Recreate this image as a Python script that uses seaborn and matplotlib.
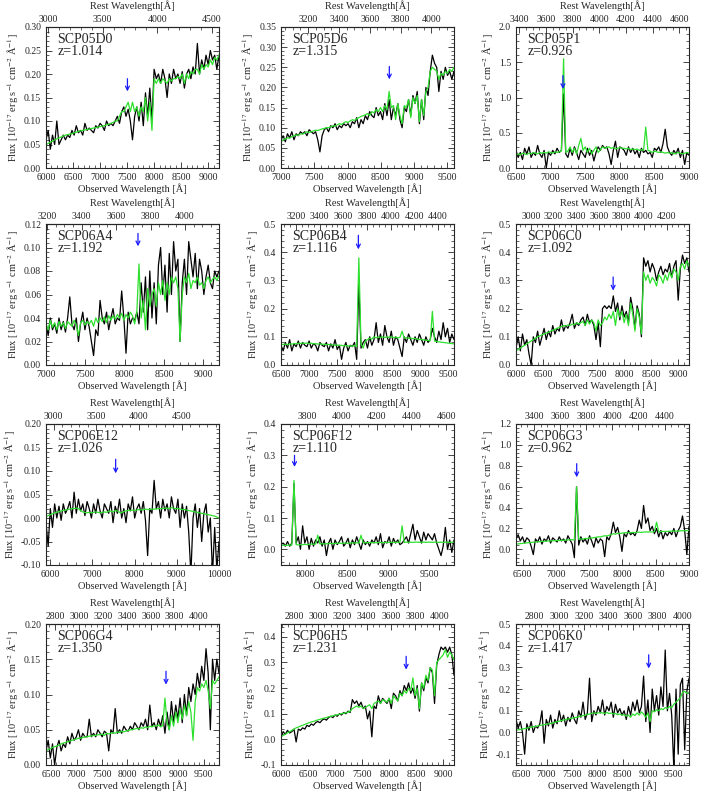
import numpy as np
import matplotlib
matplotlib.use("Agg")
import matplotlib.pyplot as plt
from matplotlib.ticker import AutoMinorLocator, FormatStrFormatter
import seaborn as sns

# ---- data: one panel per SN host, flux in 1e-17 erg/s/cm2/A ----
names = ["SCP05D0", "SCP05D6", "SCP05P1",
         "SCP06A4", "SCP06B4", "SCP06C0",
         "SCP06E12", "SCP06F12", "SCP06G3",
         "SCP06G4", "SCP06H5", "SCP06K0"]
redshifts = [1.014, 1.315, 0.926,
             1.192, 1.116, 1.092,
             1.026, 1.110, 0.962,
             1.350, 1.231, 1.417]
wave_ranges = [(6000, 9200), (7000, 9600), (6500, 9000),
               (7000, 9200), (6500, 9600), (6000, 9200),
               (5900, 10000), (7700, 9800), (6400, 9000),
               (6400, 9800), (6000, 9200), (6400, 9800)]
ylims = [(0, 0.30), (0, 0.35), (0, 2.0),
         (0, 0.12), (0, 0.5), (0, 0.5),
         (-0.10, 0.20), (-0.05, 0.4), (-0.15, 1.2),
         (0, 0.20), (-0.10, 0.45), (-0.15, 0.5)]
yticks = [np.arange(0, 0.301, 0.05), np.arange(0, 0.351, 0.05), np.arange(0, 2.01, 0.5),
          np.arange(0, 0.121, 0.02), np.arange(0, 0.51, 0.1), np.arange(0, 0.51, 0.1),
          np.arange(-0.10, 0.201, 0.05), np.arange(0, 0.41, 0.1), np.arange(0, 1.21, 0.2),
          np.arange(0, 0.201, 0.05), np.arange(-0.1, 0.41, 0.1), np.arange(-0.1, 0.51, 0.1)]
yfmt = ["%.2f", "%.2f", "%.1f", "%.2f", "%.1f", "%.1f",
        "%.2f", "%.1f", "%.1f", "%.2f", "%.1f", "%.1f"]
obs_ticks = [range(6000, 9001, 500), range(7000, 9501, 500), range(6500, 9001, 500),
             range(7000, 9001, 500), range(6500, 9501, 500), range(6000, 9001, 500),
             range(6000, 10001, 1000), range(8000, 9501, 500), range(6500, 9001, 500),
             range(6500, 9501, 500), range(6000, 9001, 500), range(6500, 9501, 500)]
rest_ticks = [range(3000, 4501, 500), range(3200, 4001, 200), range(3400, 4601, 200),
              range(3200, 4001, 200), range(3200, 4401, 200), range(3000, 4201, 200),
              range(3000, 4501, 500), range(3800, 4601, 200), range(3400, 4401, 200),
              range(2800, 4001, 200), range(2800, 4001, 200), range(2800, 4001, 200)]
# [OII] arrow: (top, tip) in flux units
arrow_y = [(0.19, 0.163), (0.252, 0.22), (1.31, 1.12),
           (0.112, 0.101), (0.46, 0.41), (0.312, 0.264),
           (0.125, 0.095), (0.30, 0.263), (0.82, 0.69),
           (0.133, 0.114), (0.324, 0.272), (0.358, 0.295)]
oii_rest = 3727.0

d0_obs = [0.06, 0.08, 0.04, 0.07, 0.05, 0.10, 0.05, 0.06, 0.07, 0.06,
          0.07, 0.065, 0.08, 0.07, 0.09, 0.075, 0.08, 0.07, 0.095, 0.08,
          0.085, 0.08, 0.075, 0.09, 0.085, 0.095, 0.09, 0.08, 0.10, 0.09,
          0.095, 0.09, 0.10, 0.11, 0.095, 0.12, 0.13, 0.11, 0.125, 0.10,
          0.06, 0.11, 0.13, 0.10, 0.14, 0.09, 0.16, 0.11, 0.17, 0.10,
          0.21, 0.19, 0.20, 0.18, 0.21, 0.19, 0.15, 0.20, 0.18, 0.21,
          0.19, 0.20, 0.18, 0.205, 0.17, 0.20, 0.21, 0.19, 0.215, 0.20,
          0.265, 0.20, 0.23, 0.21, 0.24, 0.22, 0.25, 0.23, 0.24, 0.21, 0.24]
d0_fit = [0.05, 0.052, 0.055, 0.057, 0.06, 0.062, 0.064, 0.066, 0.068, 0.07,
          0.071, 0.072, 0.073, 0.075, 0.076, 0.078, 0.079, 0.08, 0.081, 0.082,
          0.083, 0.084, 0.085, 0.086, 0.087, 0.088, 0.089, 0.09, 0.092, 0.093,
          0.095, 0.097, 0.10, 0.10, 0.11, 0.12, 0.12, 0.13, 0.14, 0.12,
          0.14, 0.12, 0.13, 0.11, 0.13, 0.12, 0.15, 0.10, 0.14, 0.08,
          0.19, 0.18, 0.19, 0.18, 0.19, 0.185, 0.18, 0.19, 0.185, 0.19,
          0.19, 0.195, 0.19, 0.20, 0.18, 0.20, 0.19, 0.205, 0.20, 0.21,
          0.21, 0.20, 0.22, 0.21, 0.22, 0.215, 0.23, 0.22, 0.235, 0.23, 0.24]

d6_obs = [0.07, 0.08, 0.065, 0.085, 0.075, 0.09, 0.07, 0.085, 0.08, 0.09,
          0.085, 0.09, 0.08, 0.095, 0.09, 0.085, 0.09, 0.07, 0.04, 0.08,
          0.095, 0.10, 0.09, 0.105, 0.10, 0.11, 0.095, 0.105, 0.10, 0.11,
          0.105, 0.11, 0.10, 0.115, 0.11, 0.125, 0.10, 0.12, 0.11, 0.13,
          0.12, 0.14, 0.13, 0.125, 0.15, 0.13, 0.14, 0.12, 0.16, 0.13,
          0.17, 0.12, 0.15, 0.13, 0.16, 0.12, 0.10, 0.15, 0.14, 0.17,
          0.13, 0.18, 0.16, 0.19, 0.11, 0.17, 0.12, 0.20, 0.18, 0.24,
          0.28, 0.26, 0.25, 0.19, 0.24, 0.22, 0.25, 0.23, 0.24, 0.22, 0.24]
d6_fit = [0.065, 0.07, 0.072, 0.075, 0.074, 0.078, 0.08, 0.082, 0.081, 0.085,
          0.084, 0.087, 0.09, 0.088, 0.09, 0.092, 0.094, 0.093, 0.095, 0.097,
          0.098, 0.10, 0.10, 0.102, 0.105, 0.104, 0.107, 0.11, 0.108, 0.112,
          0.115, 0.113, 0.117, 0.12, 0.118, 0.122, 0.125, 0.128, 0.13, 0.132,
          0.135, 0.13, 0.14, 0.137, 0.145, 0.14, 0.15, 0.14, 0.155, 0.145,
          0.19, 0.15, 0.155, 0.12, 0.16, 0.13, 0.11, 0.155, 0.15, 0.17,
          0.125, 0.175, 0.16, 0.18, 0.115, 0.17, 0.13, 0.19, 0.20, 0.24,
          0.25, 0.245, 0.24, 0.22, 0.235, 0.23, 0.24, 0.235, 0.245, 0.24, 0.25]

p1_obs = [0.25, 0.15, 0.22, 0.12, 0.28, 0.20, 0.30, 0.15, 0.22, 0.18,
          0.32, 0.20, 0.15, 0.25, 0.0, 0.22, 0.18, 0.25, 0.20, 0.28,
          0.22, 0.25, 1.05, 0.20, 0.15, 0.28, 0.18, 0.30, 0.22, 0.12,
          0.25, 0.20, 0.15, 0.28, 0.18, 0.25, 0.10, 0.22, 0.30, 0.25,
          0.32, 0.28, 0.30, 0.20, 0.05, 0.25, 0.38, 0.15, 0.30, 0.28,
          0.25, 0.18, 0.30, 0.22, 0.28, 0.20, 0.25, 0.15, 0.28, 0.22,
          0.25, 0.20, 0.22, 0.15, 0.28, 0.25, 0.30, 0.22, 0.35, 0.55,
          0.30, 0.22, 0.18, 0.25, 0.20, 0.28, 0.15, 0.25, 0.05, 0.22, 0.18]
p1_fit = [0.18, 0.20, 0.19, 0.21, 0.20, 0.19, 0.21, 0.20, 0.22, 0.21,
          0.20, 0.22, 0.21, 0.22, 0.21, 0.23, 0.22, 0.21, 0.23, 0.22,
          0.23, 0.24, 1.55, 0.22, 0.24, 0.30, 0.22, 0.28, 0.20, 0.32,
          0.42, 0.25, 0.30, 0.22, 0.28, 0.20, 0.25, 0.30, 0.22, 0.26,
          0.30, 0.28, 0.29, 0.30, 0.28, 0.29, 0.27, 0.28, 0.29, 0.28,
          0.28, 0.27, 0.28, 0.26, 0.27, 0.26, 0.27, 0.25, 0.26, 0.25,
          0.58, 0.25, 0.24, 0.22, 0.24, 0.23, 0.22, 0.23, 0.22, 0.21,
          0.22, 0.21, 0.22, 0.20, 0.21, 0.22, 0.21, 0.20, 0.21, 0.22, 0.21]

a4_obs = [0.035, 0.025, 0.04, 0.03, 0.035, 0.027, 0.04, 0.03, 0.037, 0.028,
          0.04, 0.058, 0.035, 0.03, 0.04, 0.02, 0.035, 0.045, 0.03, 0.04,
          0.032, 0.02, 0.008, 0.03, 0.025, 0.055, 0.04, 0.035, 0.045, 0.03,
          0.04, 0.048, 0.035, 0.04, 0.038, 0.063, 0.04, 0.01, 0.045, 0.035,
          0.04, 0.038, 0.045, 0.035, 0.07, 0.045, 0.075, 0.03, 0.08, 0.04,
          0.07, 0.035, 0.085, 0.10, 0.06, 0.085, 0.045, 0.095, 0.06, 0.105,
          0.08, 0.09, 0.02, 0.07, 0.09, 0.06, 0.105, 0.09, 0.075, 0.095,
          0.065, 0.09, 0.08, 0.06, 0.075, 0.085, 0.07, 0.065, 0.08, 0.075, 0.08]
a4_fit = [0.035, 0.03, 0.038, 0.032, 0.036, 0.03, 0.037, 0.033, 0.036, 0.031,
          0.037, 0.035, 0.033, 0.038, 0.034, 0.025, 0.036, 0.038, 0.034, 0.037,
          0.035, 0.038, 0.033, 0.04, 0.036, 0.04, 0.037, 0.041, 0.036, 0.042,
          0.038, 0.042, 0.039, 0.043, 0.04, 0.044, 0.038, 0.043, 0.04, 0.045,
          0.042, 0.035, 0.045, 0.086, 0.04, 0.055, 0.03, 0.065, 0.05, 0.06,
          0.065, 0.05, 0.07, 0.06, 0.072, 0.055, 0.07, 0.06, 0.075, 0.07,
          0.075, 0.065, 0.02, 0.06, 0.075, 0.07, 0.078, 0.065, 0.072, 0.07,
          0.075, 0.068, 0.07, 0.065, 0.072, 0.075, 0.07, 0.073, 0.075, 0.072, 0.076]

b4_obs = [0.07, 0.05, 0.08, 0.06, 0.09, 0.05, 0.075, 0.065, 0.085, 0.06,
          0.08, 0.07, 0.065, 0.085, 0.06, 0.075, 0.07, 0.05, 0.08, 0.07,
          0.065, 0.08, 0.05, 0.075, 0.06, 0.09, 0.055, 0.07, 0.02, 0.06,
          0.08, 0.05, 0.07, 0.065, 0.08, 0.02, 0.29, 0.06, 0.08, 0.09,
          0.06, 0.10, 0.07, 0.09, 0.15, 0.08, 0.11, 0.07, 0.14, 0.10,
          0.08, 0.12, 0.07, 0.10, 0.09, 0.06, 0.03, 0.10, 0.08, 0.11,
          0.09, 0.07, 0.10, 0.08, 0.11, 0.09, 0.07, 0.10, 0.08, 0.09,
          0.13, 0.10, 0.08, 0.12, 0.09, 0.15, 0.10, 0.13, 0.08, 0.11, 0.09]
b4_fit = [0.072, 0.073, 0.074, 0.072, 0.075, 0.074, 0.076, 0.075, 0.077, 0.076,
          0.078, 0.077, 0.078, 0.076, 0.077, 0.075, 0.076, 0.074, 0.075, 0.073,
          0.074, 0.072, 0.073, 0.071, 0.072, 0.07, 0.071, 0.069, 0.07, 0.068,
          0.069, 0.067, 0.068, 0.066, 0.07, 0.065, 0.38, 0.075, 0.06, 0.085,
          0.09, 0.095, 0.092, 0.10, 0.096, 0.10, 0.098, 0.10, 0.097, 0.10,
          0.098, 0.10, 0.097, 0.099, 0.096, 0.098, 0.12, 0.095, 0.097, 0.094,
          0.096, 0.093, 0.094, 0.092, 0.09, 0.091, 0.089, 0.088, 0.087, 0.086,
          0.19, 0.085, 0.084, 0.082, 0.081, 0.08, 0.079, 0.078, 0.077, 0.076, 0.075]

c0_obs = [0.06, 0.10, 0.05, 0.11, 0.07, 0.09, 0.04, 0.00, 0.10, 0.08,
          0.12, 0.07, 0.10, 0.13, 0.09, 0.12, 0.10, 0.14, 0.11, 0.13,
          0.12, 0.16, 0.12, 0.14, 0.13, 0.15, 0.18, 0.13, 0.15, 0.14,
          0.16, 0.17, 0.14, 0.18, 0.15, 0.16, 0.14, 0.09, 0.15, 0.065,
          0.20, 0.21, 0.20, 0.21, 0.20, 0.245, 0.19, 0.22, 0.16, 0.21,
          0.17, 0.19, 0.15, 0.24, 0.20, 0.13, 0.21, 0.18, 0.10, 0.38,
          0.35, 0.37, 0.33, 0.36, 0.34, 0.30, 0.33, 0.35, 0.32, 0.34,
          0.33, 0.36, 0.31, 0.35, 0.37, 0.23, 0.34, 0.39, 0.36, 0.38, 0.33]
c0_fit = [0.05, 0.055, 0.06, 0.065, 0.07, 0.075, 0.08, 0.085, 0.09, 0.095,
          0.10, 0.103, 0.107, 0.11, 0.113, 0.116, 0.12, 0.123, 0.126, 0.13,
          0.133, 0.136, 0.14, 0.138, 0.142, 0.14, 0.145, 0.143, 0.15, 0.145,
          0.15, 0.155, 0.14, 0.16, 0.145, 0.16, 0.15, 0.12, 0.16, 0.14,
          0.15, 0.17, 0.16, 0.18, 0.165, 0.19, 0.14, 0.20, 0.17, 0.19,
          0.15, 0.18, 0.14, 0.22, 0.18, 0.12, 0.20, 0.17, 0.11, 0.33,
          0.30, 0.32, 0.29, 0.31, 0.30, 0.28, 0.32, 0.31, 0.29, 0.32,
          0.30, 0.33, 0.31, 0.34, 0.33, 0.30, 0.35, 0.36, 0.34, 0.37, 0.35]

e12_obs = [-0.01, -0.06, 0.02, -0.02, 0.03, 0.0, 0.025, -0.005, 0.03, 0.01,
           0.02, 0.035, 0.0, 0.055, 0.01, 0.04, 0.015, 0.03, 0.005, 0.035,
           0.02, 0.0, 0.03, 0.01, 0.04, 0.015, 0.0, 0.03, 0.02, 0.01,
           0.035, -0.01, 0.025, 0.01, 0.04, 0.0, 0.02, -0.01, 0.03, 0.015,
           0.045, 0.0, 0.02, 0.03, 0.01, 0.035, -0.005, -0.08, 0.02, 0.01,
           0.08, 0.02, 0.035, 0.0, 0.04, 0.015, 0.03, 0.0, 0.045, 0.02,
           0.01, 0.04, -0.02, 0.03, 0.0, 0.025, -0.03, -0.12, 0.0, 0.03,
           -0.02, 0.02, -0.05, 0.01, 0.03, -0.03, 0.0, -0.12, -0.02, -0.11, -0.05]
e12_fit = [0.003, 0.005, 0.007, 0.009, 0.011, 0.012, 0.014, 0.015, 0.016, 0.017,
           0.018, 0.019, 0.02, 0.02, 0.021, 0.02, 0.016, 0.013, 0.012, 0.011,
           0.012, 0.011, 0.012, 0.013, 0.012, 0.011, 0.012, 0.013, 0.012, 0.014,
           0.015, 0.013, 0.016, 0.015, 0.012, 0.011, 0.014, 0.015, 0.016, 0.016,
           0.017, 0.016, 0.017, 0.018, 0.017, 0.018, 0.019, 0.018, 0.018, 0.019,
           0.019, 0.019, 0.02, 0.02, 0.02, 0.021, 0.021, 0.02, 0.022, 0.021,
           0.02, 0.02, 0.019, 0.018, 0.018, 0.017, 0.016, 0.015, 0.014, 0.013,
           0.012, 0.011, 0.01, 0.009, 0.008, 0.007, 0.006, 0.005, 0.004, 0.002, 0.0]

f12_obs = [0.015, 0.02, 0.01, 0.025, 0.01, 0.02, 0.21, 0.02, 0.04, 0.0,
           0.075, 0.02, 0.04, 0.0, 0.035, 0.01, 0.03, 0.02, 0.04, 0.01,
           0.03, -0.02, 0.02, 0.035, 0.0, 0.03, 0.015, 0.025, 0.04, 0.01,
           0.02, 0.035, 0.005, 0.03, 0.015, 0.04, 0.02, 0.0, 0.03, 0.015,
           0.025, 0.01, 0.03, 0.02, 0.04, 0.015, 0.05, 0.005, 0.025, 0.02,
           0.04, 0.01, 0.035, 0.02, 0.03, 0.015, 0.02, 0.03, 0.04, 0.02,
           0.05, 0.08, 0.03, 0.06, 0.04, 0.02, 0.055, 0.03, 0.05, 0.04,
           0.03, 0.05, 0.02, 0.0, -0.02, 0.01, 0.07, 0.0, 0.03, -0.01, 0.03]
f12_fit = [0.012, 0.013, 0.012, 0.013, 0.014, 0.013, 0.22, 0.015, 0.014, 0.015,
           0.015, 0.016, 0.015, 0.016, 0.017, 0.016, 0.017, 0.045, 0.017, 0.018,
           0.017, 0.018, 0.018, 0.019, 0.018, 0.019, 0.019, 0.02, 0.019, 0.02,
           0.02, 0.019, 0.02, 0.021, 0.02, 0.021, 0.02, 0.045, 0.021, 0.021,
           0.021, 0.022, 0.021, 0.022, 0.021, 0.022, 0.022, 0.021, 0.022, 0.022,
           0.022, 0.023, 0.022, 0.022, 0.023, 0.022, 0.075, 0.022, 0.023, 0.022,
           0.023, 0.022, 0.023, 0.023, 0.022, 0.023, 0.023, 0.022, 0.023, 0.023,
           0.022, 0.023, 0.023, 0.022, 0.023, 0.022, 0.023, 0.023, 0.022, 0.023, 0.023]

g3_obs = [0.10, 0.14, 0.08, 0.12, 0.06, 0.11, 0.09, 0.03, -0.05, 0.10,
          0.07, 0.12, 0.05, 0.10, 0.08, 0.13, 0.06, 0.11, 0.09, 0.07,
          0.12, 0.08, 0.10, 0.06, 0.13, 0.09, 0.05, -0.08, 0.60, 0.04,
          0.12, 0.07, 0.10, 0.05, 0.13, 0.08, 0.02, 0.11, 0.06, 0.10,
          0.08, -0.07, 0.12, 0.09, 0.15, 0.26, 0.16, 0.21, 0.12, -0.02,
          0.15, 0.12, 0.18, 0.14, 0.16, 0.13, 0.18, 0.28, 0.20, 0.42,
          0.25, 0.30, 0.18, 0.22, 0.15, 0.20, 0.12, 0.18, 0.10, 0.16,
          0.13, 0.17, 0.14, 0.20, 0.12, 0.18, 0.22, 0.32, 0.18, -0.05, 0.22]
g3_fit = [0.05, 0.052, 0.055, 0.057, 0.06, 0.062, 0.064, 0.066, 0.068, 0.07,
          0.072, 0.074, 0.075, 0.077, 0.078, 0.08, 0.081, 0.082, 0.083, 0.084,
          0.085, 0.086, 0.087, 0.088, 0.09, 0.091, 0.092, 0.09, 0.60, 0.095,
          0.10, 0.098, 0.105, 0.10, 0.11, 0.108, 0.112, 0.115, 0.12, 0.118,
          0.125, 0.13, 0.128, 0.135, 0.14, 0.15, 0.145, 0.155, 0.15, 0.155,
          0.158, 0.16, 0.158, 0.16, 0.162, 0.16, 0.163, 0.165, 0.162, 0.165,
          0.167, 0.165, 0.168, 0.166, 0.17, 0.26, 0.168, 0.17, 0.172, 0.17,
          0.172, 0.173, 0.174, 0.175, 0.174, 0.176, 0.177, 0.178, 0.178, 0.18, 0.18]

g4_obs = [0.02, 0.035, 0.01, 0.03, 0.0, 0.025, 0.035, 0.02, 0.03, 0.025,
          0.04, 0.03, 0.045, 0.035, 0.04, 0.05, 0.035, 0.045, 0.04, 0.04,
          0.065, 0.04, 0.045, 0.04, 0.05, 0.045, 0.04, 0.048, 0.045, 0.02,
          0.05, 0.045, 0.08, 0.045, 0.05, 0.045, 0.055, 0.05, 0.048, 0.055,
          0.05, 0.06, 0.055, 0.05, 0.06, 0.055, 0.065, 0.05, 0.085, 0.055,
          0.06, 0.05, 0.065, 0.055, 0.07, 0.045, 0.075, 0.05, 0.09, 0.06,
          0.085, 0.065, 0.095, 0.06, 0.10, 0.07, 0.11, 0.09, 0.115, 0.10,
          0.13, 0.11, 0.14, 0.12, 0.165, 0.13, 0.05, 0.15, 0.12, 0.15, 0.13]
g4_fit = [0.02, 0.022, 0.023, 0.025, 0.026, 0.027, 0.028, 0.03, 0.031, 0.032,
          0.033, 0.034, 0.035, 0.036, 0.037, 0.038, 0.038, 0.039, 0.04, 0.04,
          0.041, 0.041, 0.042, 0.042, 0.043, 0.043, 0.044, 0.042, 0.045, 0.044,
          0.045, 0.046, 0.045, 0.047, 0.046, 0.048, 0.047, 0.048, 0.049, 0.05,
          0.05, 0.051, 0.052, 0.051, 0.053, 0.052, 0.054, 0.053, 0.055, 0.054,
          0.056, 0.055, 0.057, 0.054, 0.056, 0.095, 0.06, 0.05, 0.07, 0.055,
          0.075, 0.06, 0.08, 0.065, 0.085, 0.07, 0.09, 0.075, 0.035, 0.09,
          0.11, 0.105, 0.115, 0.11, 0.12, 0.105, 0.08, 0.12, 0.115, 0.12, 0.125]

h5_obs = [0.01, 0.03, 0.02, 0.035, 0.025, 0.03, 0.04, -0.01, 0.04, 0.035,
          0.045, 0.04, 0.055, 0.05, 0.06, 0.055, 0.065, 0.07, 0.065, 0.075,
          0.08, 0.075, 0.085, 0.09, 0.085, 0.095, 0.09, 0.10, 0.095, 0.105,
          0.10, 0.11, 0.105, 0.155, 0.14, 0.15, 0.13, 0.145, 0.12, 0.13,
          0.08, 0.11, 0.01, 0.13, 0.12, 0.17, 0.14, 0.16, 0.15, 0.14,
          0.16, 0.12, 0.18, 0.17, 0.15, 0.19, 0.17, 0.21, 0.19, 0.22,
          0.18, 0.20, 0.16, 0.21, 0.11, 0.22, 0.19, 0.24, 0.22, 0.28,
          0.26, 0.14, 0.29, 0.33, 0.36, 0.35, 0.36, 0.34, 0.36, 0.33, 0.25]
h5_fit = [0.01, 0.015, 0.02, 0.025, 0.03, 0.035, 0.04, 0.045, 0.048, 0.052,
          0.055, 0.058, 0.062, 0.065, 0.068, 0.07, 0.073, 0.076, 0.078, 0.081,
          0.083, 0.085, 0.088, 0.09, 0.092, 0.094, 0.096, 0.098, 0.10, 0.102,
          0.104, 0.106, 0.11, 0.12, 0.125, 0.13, 0.125, 0.13, 0.12, 0.125,
          0.13, 0.135, 0.12, 0.14, 0.145, 0.15, 0.14, 0.155, 0.15, 0.145,
          0.16, 0.14, 0.17, 0.16, 0.15, 0.18, 0.17, 0.19, 0.18, 0.20,
          0.19, 0.24, 0.17, 0.20, 0.12, 0.22, 0.20, 0.25, 0.23, 0.28,
          0.27, 0.17, 0.30, 0.31, 0.32, 0.33, 0.35, 0.32, 0.34, 0.33, 0.31]

k0_obs = [0.06, 0.02, 0.05, 0.0, -0.10, 0.04, 0.01, 0.05, 0.0, 0.03,
          0.02, 0.04, 0.10, -0.05, 0.06, 0.03, 0.08, 0.02, 0.06, 0.04,
          0.10, 0.05, 0.08, 0.03, 0.07, 0.05, 0.09, 0.06, 0.04, 0.10,
          0.07, 0.14, 0.06, 0.09, 0.25, 0.05, 0.10, 0.08, 0.12, 0.09,
          0.15, 0.08, 0.12, 0.10, 0.14, 0.07, 0.13, 0.09, 0.11, 0.08,
          0.10, 0.06, 0.12, 0.08, 0.14, 0.10, 0.15, 0.09, 0.12, 0.26,
          0.05, 0.15, 0.0, 0.20, 0.10, 0.17, 0.08, 0.21, 0.12, 0.38,
          0.10, 0.18, 0.08, -0.17, 0.20, -0.10, 0.22, 0.25, -0.08, 0.19, 0.25]
k0_fit = [0.01, 0.012, 0.014, 0.016, 0.018, 0.02, 0.022, 0.024, 0.026, 0.028,
          0.03, 0.032, 0.034, 0.036, 0.038, 0.04, 0.042, 0.044, 0.047, 0.05,
          0.052, 0.055, 0.057, 0.06, 0.062, 0.064, 0.066, 0.068, 0.07, 0.072,
          0.075, 0.078, 0.08, 0.083, 0.085, 0.088, 0.09, 0.088, 0.09, 0.092,
          0.09, 0.088, 0.092, 0.087, 0.09, 0.085, 0.088, 0.082, 0.085, 0.08,
          0.082, 0.075, 0.08, 0.07, 0.085, 0.078, 0.09, 0.08, 0.095, 0.085,
          0.07, 0.09, 0.05, 0.10, 0.095, 0.105, 0.10, 0.11, 0.105, 0.115,
          0.11, 0.12, 0.115, 0.13, 0.14, 0.15, 0.16, 0.185, 0.19, 0.18, 0.185]

observed = [d0_obs, d6_obs, p1_obs, a4_obs, b4_obs, c0_obs,
            e12_obs, f12_obs, g3_obs, g4_obs, h5_obs, k0_obs]
models = [d0_fit, d6_fit, p1_fit, a4_fit, b4_fit, c0_fit,
          e12_fit, f12_fit, g3_fit, g4_fit, h5_fit, k0_fit]

# ---- style ----
sns.set_style("ticks")
plt.rcParams["font.family"] = ["Liberation Serif", "DejaVu Serif"]
plt.rcParams["mathtext.fontset"] = "stix"
plt.rcParams["axes.linewidth"] = 0.8

W, H = 705, 799
fig = plt.figure(figsize=(W / 100, H / 100), dpi=100)

col_left = [46, 281, 516]
row_top = [27, 224, 424, 624]
ax_w, ax_h = 173, 141

for k in range(12):
    r, c = divmod(k, 3)
    ax = fig.add_axes([col_left[c] / W, 1 - (row_top[r] + ax_h) / H, ax_w / W, ax_h / H])
    x0, x1 = wave_ranges[k]
    z = redshifts[k]

    w_obs = np.linspace(x0, x1, len(observed[k]))
    w_fit = np.linspace(x0, x1, len(models[k]))
    sns.lineplot(x=w_obs, y=observed[k], ax=ax, color="black", lw=0.9,
                 estimator=None, sort=False)
    sns.lineplot(x=w_fit, y=models[k], ax=ax, color="#2ee02e", lw=0.9,
                 estimator=None, sort=False)

    ax.set_xlim(x0, x1)
    ax.set_ylim(*ylims[k])
    ax.set_xticks(list(obs_ticks[k]))
    ax.set_yticks(yticks[k])
    ax.yaxis.set_major_formatter(FormatStrFormatter(yfmt[k]))
    ax.xaxis.set_minor_locator(AutoMinorLocator(5))
    ax.yaxis.set_minor_locator(AutoMinorLocator(5))
    ax.tick_params(which="both", direction="in", top=False, right=True,
                   labelsize=7)
    ax.tick_params(which="major", length=4, width=0.6)
    ax.tick_params(which="minor", length=2, width=0.5)
    ax.set_xlabel("Observed Wavelength [Å]", fontsize=7.5, labelpad=1)
    ax.set_ylabel(r"Flux [10$^{-17}$ erg s$^{-1}$ cm$^{-2}$ Å$^{-1}$]",
                  fontsize=7.5, labelpad=2)

    top = ax.secondary_xaxis("top", functions=(lambda w, z=z: w / (1 + z),
                                                lambda rw, z=z: rw * (1 + z)))
    top.set_xticks(list(rest_ticks[k]))
    step = rest_ticks[k].step
    top.xaxis.set_minor_locator(AutoMinorLocator(5 if step == 500 else 4))
    top.tick_params(which="both", direction="in", labelsize=7, pad=2.5)
    top.tick_params(which="major", length=4, width=0.6)
    top.tick_params(which="minor", length=2, width=0.5)
    top.set_xlabel("Rest Wavelength[Å]", fontsize=7.5)
    top.xaxis.set_label_coords(0.5, 1.125, transform=ax.transAxes)

    ax.text(0.065, 0.955, names[k] + "\nz=%.3f" % z, transform=ax.transAxes,
            fontsize=10, va="top", ha="left", linespacing=0.85)

    xa = oii_rest * (1 + z)
    ya_top, ya_tip = arrow_y[k]
    ax.annotate("", xy=(xa, ya_tip), xytext=(xa, ya_top),
                arrowprops=dict(arrowstyle="->", color="#1a1aff", lw=0.9,
                                shrinkA=0, shrinkB=0, mutation_scale=7))

fig.savefig("out.png", dpi=100)
